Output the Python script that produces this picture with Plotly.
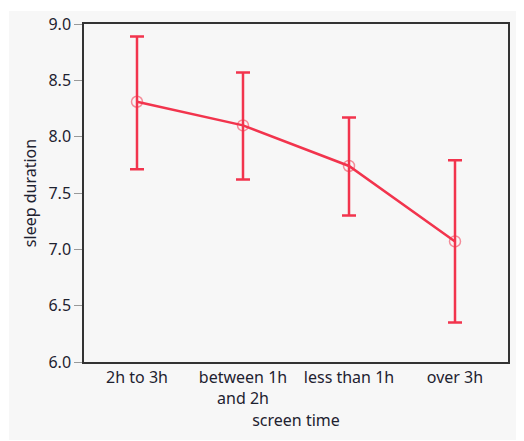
import plotly.graph_objects as go

categories = ["2h to 3h", "between 1h<br>and 2h", "less than 1h", "over 3h"]
means = [8.31, 8.10, 7.74, 7.07]
upper = [8.89, 8.57, 8.17, 7.79]
lower = [7.71, 7.62, 7.30, 6.35]

err_plus = [u - m for u, m in zip(upper, means)]
err_minus = [m - l for m, l in zip(means, lower)]

RED = "#f2344d"

fig = go.Figure()
fig.add_trace(go.Scatter(
    x=categories, y=means, mode="lines+markers",
    line=dict(color=RED, width=2.5),
    marker=dict(symbol="circle-open", size=11, color="rgba(242,52,77,0.55)", line=dict(width=1.5)),
    error_y=dict(type="data", symmetric=False, array=err_plus, arrayminus=err_minus,
                 color=RED, thickness=2.5, width=7),
    showlegend=False,
))

# figure is placed at page offset (8, 8) by the default body margin
W, H = 516, 433
L, R, T, B = 76, 16, 16, 79
pw, ph = W - L - R, H - T - B
fig.add_shape(type="rect", xref="paper", yref="paper", layer="below",
              x0=(1 - L) / pw, x1=(W - L) / pw,
              y0=(H - B - 432) / ph, y1=(H - B - 3) / ph,
              fillcolor="#f7f7f7", line=dict(width=0))

fig.update_layout(
    width=W, height=H,
    margin=dict(l=L, r=R, t=T, b=B, autoexpand=False),
    paper_bgcolor="white", plot_bgcolor="white",
    font=dict(family="Noto Sans, Open Sans, sans-serif", size=16, color="#1e2230"),
    xaxis=dict(
        type="category", range=[-0.5, 3.5], showgrid=False, ticks="",
        showline=True, linecolor="#333333", linewidth=1.5, mirror=True,
        title=dict(text="screen time", standoff=2, font=dict(size=16)),
        tickfont=dict(size=16), automargin=False,
    ),
    yaxis=dict(
        range=[6.0, 9.0], dtick=0.5, tickformat=".1f", showgrid=False,
        ticks="outside", ticklen=8, tickcolor="#999999", tickwidth=1,
        showline=True, linecolor="#333333", linewidth=1.5, mirror=True,
        title=dict(text="sleep duration", standoff=8, font=dict(size=16)),
        tickfont=dict(size=16), zeroline=False, automargin=False,
    ),
)

fig.write_html("out.html")
